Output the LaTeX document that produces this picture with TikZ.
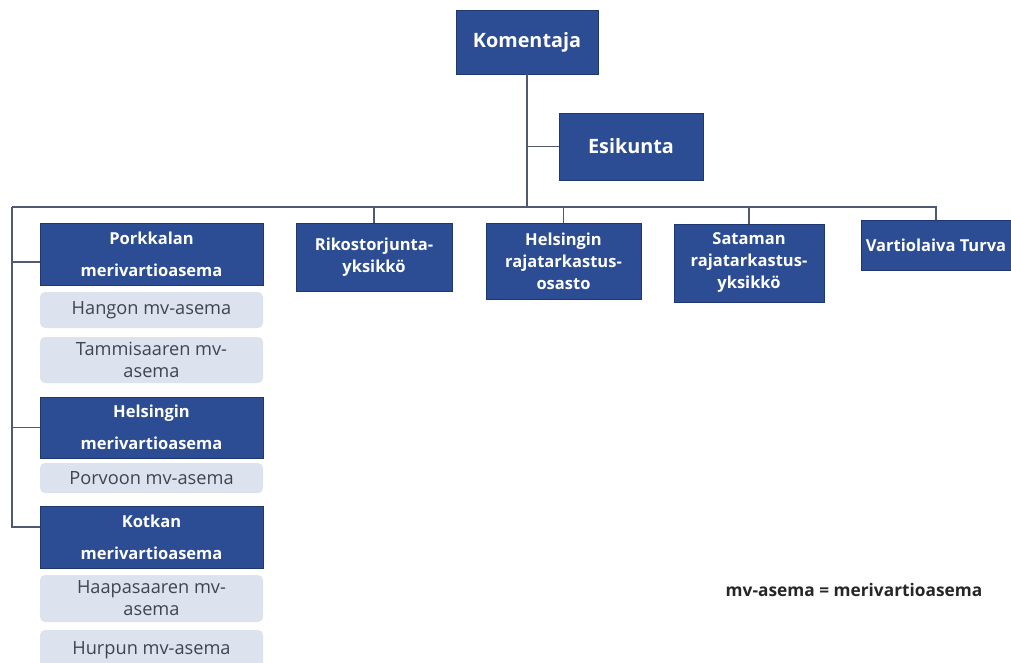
\documentclass[tikz,border=0pt]{standalone}
\usepackage{fontspec}
\setmainfont{Open Sans}
\usetikzlibrary{positioning}
\definecolor{unitblue}{HTML}{2C4D93}
\definecolor{unitedge}{HTML}{1E3770}
\definecolor{stationgrey}{HTML}{DDE3EE}
\definecolor{stationtext}{HTML}{3E4452}
\definecolor{linegrey}{HTML}{4F5A70}

\begin{document}
\begin{tikzpicture}
        [
        x=1pt, y=-1pt,
        unit/.style={rectangle, draw=unitedge, fill=unitblue, text=white, align=center,
                     font=\bfseries\fontsize{16.5}{22}\selectfont, inner sep=0pt},
        topunit/.style={unit, font=\bfseries\fontsize{19.8}{24}\selectfont},
        coastunit/.style={unit, minimum width=223pt, minimum height=62pt,
                     font=\bfseries\fontsize{16.5}{32}\selectfont},
        station/.style={rectangle, rounded corners=5pt, fill=stationgrey, text=stationtext,
                     minimum width=223pt, align=center, inner sep=0pt,
                     font=\fontsize{18.2}{22}\selectfont},
        link/.style={draw=linegrey, line width=1.5pt}
        ]
        \useasboundingbox (0,0) rectangle (1011,663);
        % Top level
        \node[topunit, minimum width=142pt, minimum height=64pt] (komentaja) at (527,42) {Komentaja};
        \node[topunit, minimum width=144pt, minimum height=67pt] (esikunta) at (631,146.5) {Esikunta};
        % Bus coordinates
        \coordinate (busL) at (12,207);
        \coordinate (busR) at (936,207);
        % Level 1: units
        \node[unit, minimum width=156pt, minimum height=68pt] (rikos) at (374,257) {Rikostorjunta-\\yksikkö};
        \node[unit, minimum width=155pt, minimum height=76pt] (helraja) at (563.5,261) {Helsingin\\rajatarkastus-\\osasto};
        \node[unit, minimum width=150pt, minimum height=78pt] (satama) at (749,263) {Sataman\\rajatarkastus-\\yksikkö};
        \node[unit, minimum width=150pt, minimum height=50pt] (turva) at (936,245) {Vartiolaiva Turva};
        % Left column: coast guard stations
        \node[coastunit] (porkkala) at (151.5,254) {Porkkalan\\merivartioasema};
        \node[station, minimum height=36pt] (hanko) at (151.5,310) {Hangon mv-asema};
        \node[station, minimum height=46pt] (tammisaari) at (151.5,360) {Tammisaaren mv-\\asema};
        \node[coastunit, minimum height=61pt] (helsinki) at (151.5,427.5) {Helsingin\\merivartioasema};
        \node[station, minimum height=30pt] (porvoo) at (151.5,478) {Porvoon mv-asema};
        \node[coastunit] (kotka) at (151.5,537) {Kotkan\\merivartioasema};
        \node[station, minimum height=47pt] (haapasaari) at (151.5,598.5) {Haapasaaren mv-\\asema};
        \node[station, minimum height=40pt] (hurppu) at (151.5,650) {Hurpun mv-asema};
        % Note
        \node[font=\bfseries\fontsize{17.3}{20}\selectfont, text=black!85] (note) at (854,590) {mv-asema = merivartioasema};
        % Connectors
        \draw[link] (komentaja.south) -- (komentaja.south |- busL);
        \draw[link] (komentaja.south |- esikunta.west) -- (esikunta.west);
        \draw[link] (busL) -- (busR) -- (busR |- turva.north);
        \draw[link] (rikos.north |- busL) -- (rikos.north);
        \draw[link] (helraja.north |- busL) -- (helraja.north);
        \draw[link] (satama.north |- busL) -- (satama.north);
        \draw[link] (busL) -- ([yshift=10pt]busL |- kotka.west) -- ([yshift=10pt]kotka.west);
        \draw[link] ([yshift=-8pt]busL |- porkkala.west) -- ([yshift=-8pt]porkkala.west);
        \draw[link] (busL |- helsinki.west) -- (helsinki.west);
\end{tikzpicture}
\end{document}
